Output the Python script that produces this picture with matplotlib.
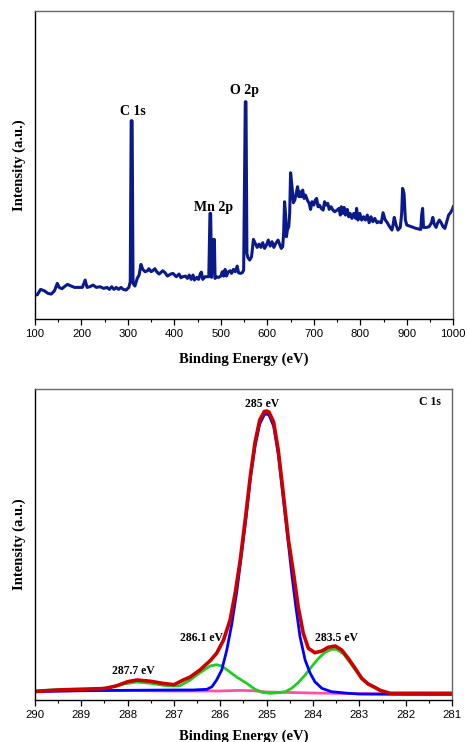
import matplotlib
matplotlib.use("Agg")
import matplotlib.pyplot as plt
from matplotlib.ticker import MultipleLocator

# survey spectrum (binding energy eV, intensity a.u.)
survey_ev = [100, 105, 112, 120, 128, 135, 142, 148, 152, 158, 165, 170, 178, 185, 195,
             202, 208, 212, 218, 225, 232, 240, 248, 255, 260, 265, 270, 275, 280, 285,
             290, 296, 302, 305, 307, 309, 311, 315, 320, 324, 328, 332, 337, 342, 345,
             350, 355, 358, 362, 367, 375, 380, 385, 392, 397, 404, 410, 414, 418, 424,
             428, 432, 436, 440, 443, 448, 452, 456, 458, 461, 466, 470, 474, 476.5, 478,
             480, 484.5, 486, 487.5, 490, 495, 500, 503, 506, 509, 512, 516, 520, 523, 527,
             531, 535, 538, 542, 546, 549, 552.5, 554, 556, 558, 562, 566, 570, 574, 578,
             582, 586, 590, 594, 598, 602, 606, 610, 614, 618, 623, 627, 630, 633, 635,
             637, 639, 641, 643, 646, 648, 650, 653, 656, 659, 662, 665, 668, 670, 673,
             676, 679, 682, 686, 690, 693, 696, 700, 703, 706, 709, 712, 716, 720, 723,
             726, 730, 733, 737, 741, 745, 750, 754, 757, 759, 762, 765, 768, 772, 775,
             778, 782, 786, 790, 792, 795, 799, 803, 807, 811, 815, 819, 823, 827, 831,
             836, 840, 845, 849, 853, 858, 863, 868, 871, 873, 877, 881, 886, 889, 891,
             894, 897, 900, 910, 920, 930, 932, 934, 936, 942, 948, 953, 956, 959, 963,
             966, 970, 974, 978, 982, 986, 990, 994, 998, 1000]
survey_int = [72, 73, 89, 85, 77, 75, 85, 107, 95, 91, 99, 104, 99, 95, 95,
              95, 117, 95, 97, 102, 95, 97, 92, 95, 89, 97, 89, 95, 89, 95,
              89, 87, 95, 112, 595, 595, 107, 99, 122, 132, 164, 149, 142, 145, 151,
              142, 147, 151, 142, 135, 145, 139, 129, 135, 137, 127, 135, 124, 127, 129,
              122, 132, 119, 132, 117, 125, 119, 137, 141, 119, 127, 127, 127, 317, 317,
              125, 239, 239, 122, 127, 125, 129, 142, 129, 149, 129, 142, 145, 137, 149,
              142, 159, 139, 137, 139, 147, 652, 652, 197, 185, 177, 187, 239, 227, 215,
              225, 215, 229, 212, 222, 237, 219, 232, 215, 227, 237, 222, 212, 217, 257,
              352, 317, 247, 267, 277, 317, 439, 397, 349, 357, 377, 397, 367, 382, 367,
              387, 362, 372, 357, 347, 329, 352, 342, 357, 362, 337, 342, 332, 327, 352,
              342, 347, 329, 337, 327, 322, 327, 332, 312, 337, 317, 335, 312, 329, 307,
              317, 302, 317, 302, 332, 297, 317, 297, 307, 297, 312, 289, 307, 292, 302,
              289, 292, 289, 319, 299, 289, 277, 267, 287, 305, 282, 267, 275, 317, 392,
              377, 297, 282, 277, 272, 269, 312, 332, 275, 275, 277, 289, 305, 285, 275,
              287, 297, 289, 277, 272, 292, 312, 319, 329, 337]

survey_labels = ["C 1s", "Mn 2p", "O 2p"]
survey_label_ev = [310, 485, 551]
survey_label_int = [622, 334, 685]

# C 1s high resolution fit
c1s_ev = [290.0, 289.5, 289.0, 288.5, 288.25, 288.0, 287.8, 287.5, 287.25, 287.0,
          286.8, 286.65, 286.44, 286.22, 286.08, 285.93, 285.79, 285.68, 285.57, 285.45,
          285.35, 285.25, 285.15, 285.05, 285.0, 284.95, 284.85, 284.75, 284.65, 284.53,
          284.42, 284.32, 284.21, 284.1, 283.96, 283.81, 283.67, 283.52, 283.38, 283.24,
          283.09, 282.95, 282.81, 282.67, 282.55, 282.34, 282.0, 281.5, 281.0]
envelope = [8.5, 10.0, 10.7, 11.5, 14.0, 18.3, 20.0, 18.7, 16.7, 15.3,
            20.0, 23.0, 30.0, 39.3, 46.7, 60.0, 80.0, 106.7, 140.0, 185.0,
            225.0, 258.0, 280.0, 288.5, 289.0, 288.0, 278.0, 250.0, 210.0, 160.0,
            126.7, 93.3, 66.7, 51.7, 47.3, 49.0, 52.7, 54.0, 50.0, 41.7,
            31.7, 21.7, 16.0, 12.7, 9.7, 6.7, 6.7, 6.7, 6.7]

blue_ev = [290.0, 289.0, 288.0, 287.0, 286.6, 286.29, 286.18, 286.08, 285.97, 285.86,
           285.75, 285.64, 285.54, 285.45, 285.35, 285.25, 285.15, 285.05, 285.0, 284.95,
           284.85, 284.75, 284.65, 284.54, 284.46, 284.37, 284.28, 284.17, 284.06, 283.96,
           283.81, 283.6, 283.24, 283.0, 282.0, 281.0]
blue_int = [8.5, 9.3, 9.7, 10.0, 10.0, 10.7, 13.3, 20.0, 30.0, 50.0,
            76.7, 110.0, 146.7, 180.0, 222.0, 254.0, 276.0, 285.5, 286.0, 285.0,
            274.0, 246.0, 205.0, 160.0, 126.7, 93.3, 63.3, 40.0, 26.7, 18.3,
            11.7, 8.3, 6.7, 6.0, 5.7, 5.7]

green_ev = [290.0, 289.38, 288.66, 288.38, 288.09, 287.8, 287.51, 287.23, 287.01, 286.87,
            286.65, 286.44, 286.22, 286.08, 285.97, 285.83, 285.64, 285.43, 285.25, 285.1,
            284.93, 284.75, 284.6, 284.46, 284.32, 284.17, 284.03, 283.88, 283.74, 283.6,
            283.49, 283.34, 283.2, 283.06, 282.91, 282.77, 282.66, 282.55, 282.34, 282.0,
            281.0]
green_int = [9.3, 10.7, 11.0, 12.7, 16.0, 18.0, 16.7, 14.7, 14.0, 14.3,
             20.0, 27.3, 34.0, 35.3, 34.0, 29.3, 22.7, 16.7, 10.7, 7.7,
             6.7, 7.3, 8.3, 11.7, 17.3, 25.0, 33.3, 41.7, 47.7, 50.7,
             50.7, 46.0, 37.3, 28.3, 20.0, 15.0, 12.7, 9.3, 6.3, 6.3,
             6.3]

base_ev = [290.0, 289.0, 288.0, 287.0, 286.0, 285.6, 285.3, 285.0, 284.5, 284.0,
           283.0, 282.0, 281.0]
base_int = [8.5, 9.3, 9.5, 9.0, 9.0, 9.6, 9.3, 8.0, 7.5, 7.0, 6.3, 6.0, 5.7]

c1s_labels = ["287.7 eV", "286.1 eV", "285 eV", "283.5 eV"]
c1s_label_ev = [287.87, 286.4, 285.1, 283.49]
c1s_label_int = [29, 62, 296.5, 62]

serif = "Liberation Serif"
sans = "Liberation Sans"

fig = plt.figure(figsize=(4.67, 7.42), dpi=100)
ax1 = fig.add_axes([0.0749, 0.570, 0.8957, 0.4155])
ax2 = fig.add_axes([0.0749, 0.0566, 0.893, 0.4187])


def style(ax):
    for s in ["left", "bottom"]:
        ax.spines[s].set_color("black")
        ax.spines[s].set_linewidth(1.0)
    for s in ["top", "right"]:
        ax.spines[s].set_color("#666666")
        ax.spines[s].set_linewidth(1.0)
    ax.set_yticks([])
    ax.tick_params(axis="x", which="major", direction="out", length=4, width=0.9, pad=3,
                   labelsize=8.2)
    ax.tick_params(axis="x", which="minor", direction="out", length=2.5, width=0.8)
    for t in ax.get_xticklabels():
        t.set_fontfamily(sans)
    ax.set_ylabel("Intensity (a.u.)", fontfamily=serif, fontweight="bold", fontsize=10.5)
    ax.set_xlabel("Binding Energy (eV)", fontfamily=serif, fontweight="bold", fontsize=10.5)


# top: survey
ax1.plot(survey_ev, survey_int, color="#0a1a8a", lw=2.2, solid_joinstyle="round")
ax1.set_xlim(100, 1000)
ax1.set_ylim(0, 925)
ax1.xaxis.set_major_locator(MultipleLocator(100))
ax1.xaxis.set_minor_locator(MultipleLocator(50))
for lab, x, y in zip(survey_labels, survey_label_ev, survey_label_int):
    ax1.text(x, y, lab, ha="center", va="center", fontfamily=serif, fontweight="bold",
             fontsize=10)
style(ax1)
ax1.yaxis.set_label_coords(-0.022, 0.5)
ax1.xaxis.set_label_coords(0.5, -0.108)

# bottom: C 1s
ax2.plot(base_ev, base_int, color="#ff4fa8", lw=2.0)
ax2.plot(green_ev, green_int, color="#22cc22", lw=2.0)
ax2.plot(blue_ev, blue_int, color="#0000ff", lw=2.0)
ax2.plot(c1s_ev, envelope, color="#cc0000", lw=2.6)
ax2.set_xlim(290, 281)
ax2.set_ylim(0, 310.7)
ax2.xaxis.set_major_locator(MultipleLocator(1))
ax2.xaxis.set_minor_locator(MultipleLocator(0.5))
for lab, x, y in zip(c1s_labels, c1s_label_ev, c1s_label_int):
    ax2.text(x, y, lab, ha="center", va="center", fontfamily=serif, fontweight="bold",
             fontsize=8.5)
ax2.text(281.47, 298.3, "C 1s", ha="center", va="center", fontfamily=serif,
         fontweight="bold", fontsize=8.5)
style(ax2)
ax2.yaxis.set_label_coords(-0.022, 0.5)
ax2.xaxis.set_label_coords(0.5, -0.095)

fig.savefig("out.png", dpi=100)
